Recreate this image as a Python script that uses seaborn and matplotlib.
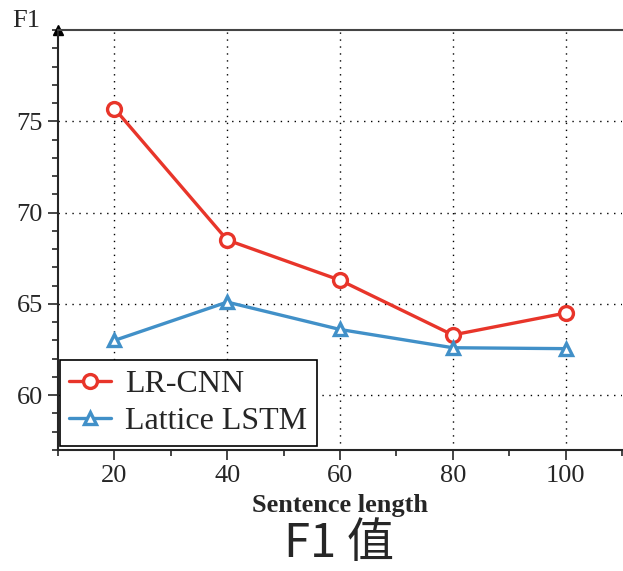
import numpy as np
import pandas as pd
import matplotlib
matplotlib.use('Agg')
import matplotlib.pyplot as plt
import seaborn as sns
from matplotlib.ticker import MultipleLocator

# Datos
longitudes = [20, 40, 60, 80, 100]
f1_lrcnn   = [75.7, 68.5, 66.3, 63.3, 64.5]
f1_lattice = [63.0, 65.1, 63.6, 62.6, 62.55]
modelos    = ['LR-CNN', 'Lattice LSTM']
colores    = ['#e8352a', '#4190c8']
marcas     = ['o', '^']
tamanos    = [10, 9]

sns.set_style('white')
plt.rcParams['font.family'] = ['Liberation Serif', 'DejaVu Serif']

fig = plt.figure(figsize=(6.23, 5.71), dpi=100)
ax = fig.add_axes([58 / 623, 121 / 571, 564 / 623, 420 / 571])

for nombre, serie, col, mk, ms in zip(modelos, [f1_lrcnn, f1_lattice], colores, marcas, tamanos):
    sns.lineplot(x=longitudes, y=serie, color=col, marker=mk, label=nombre,
                 linewidth=2.4, markersize=ms, markeredgewidth=2.4,
                 markerfacecolor='white', markeredgecolor=col, ax=ax)

ax.set_xlim(10, 110)
ax.set_ylim(57, 80)
ax.set_xticks([20, 40, 60, 80, 100])
ax.set_yticks([60, 65, 70, 75])
ax.xaxis.set_minor_locator(MultipleLocator(10))
ax.yaxis.set_minor_locator(MultipleLocator(1))
ax.tick_params(which='major', direction='out', length=7, width=1.2,
               labelsize=19, left=True, bottom=True, pad=4)
ax.tick_params(which='minor', direction='out', length=4, width=1.2,
               left=True, bottom=True)
ax.grid(True, which='major', linestyle=(0, (1, 4)), color='black', linewidth=1)

ax.spines['right'].set_visible(False)
ax.spines['left'].set_linewidth(1.5)
ax.spines['bottom'].set_linewidth(1.5)
ax.spines['top'].set_linewidth(1.5)
ax.spines['top'].set_color('#444444')
for s in ax.spines.values():
    s.set_zorder(3)
ax.plot(0, 1, marker='^', color='black', markersize=7,
        transform=ax.transAxes, clip_on=False)

ax.set_xlabel('Sentence length', fontsize=19, fontweight='bold', labelpad=5)
ax.set_ylabel('')
fig.text(12 / 623, 1 - 21 / 571, 'F1', fontsize=19, va='center', ha='left')

leg = ax.legend(loc='lower left', bbox_to_anchor=(0.003, 0.01),
                borderaxespad=0, fontsize=23, frameon=True, fancybox=False,
                edgecolor='black', framealpha=1, handlelength=1.3,
                handletextpad=0.45, borderpad=0.3, labelspacing=0.25)
leg.get_frame().set_linewidth(1.2)

fig.text(339 / 623, 3 / 571, 'F1 值', fontsize=34, ha='center', va='bottom',
         family=['Noto Sans CJK SC', 'DejaVu Sans'])

fig.savefig('out.png', dpi=100)
